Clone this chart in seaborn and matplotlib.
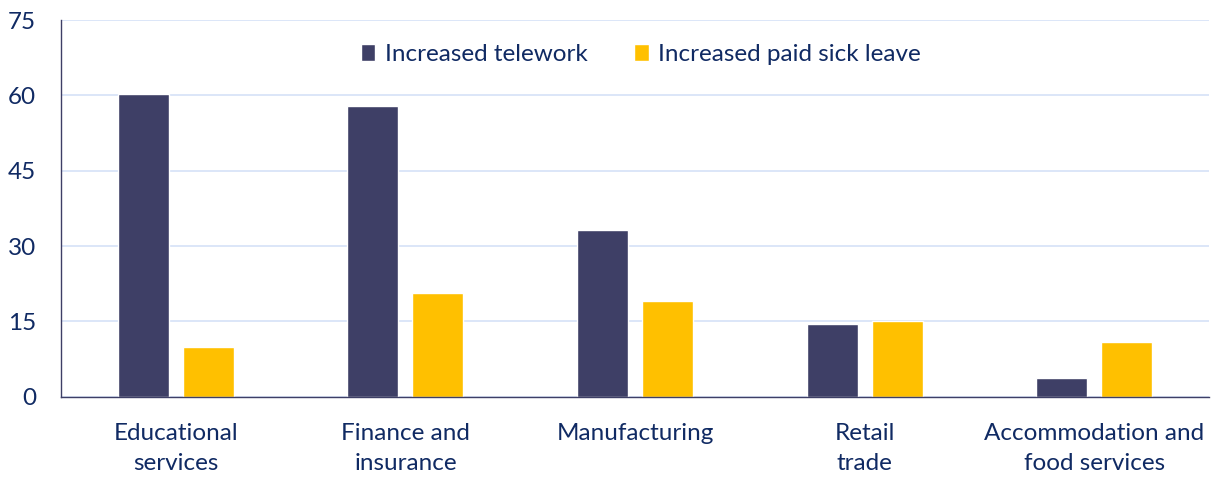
import pandas as pd
import matplotlib
matplotlib.use("Agg")
import matplotlib.pyplot as plt
import seaborn as sns

# ==========================================================
# Data
# ==========================================================

industries = [
    "Educational\nservices",
    "Finance and\ninsurance",
    "Manufacturing",
    "Retail\ntrade",
    "Accommodation and\nfood services",
]
telework = [60.2, 57.8, 33.3, 14.5, 3.7]
sick_leave = [9.9, 20.7, 19.1, 15.1, 10.9]
series_names = ["Increased telework", "Increased paid sick leave"]

df = pd.DataFrame({
    "Industry": industries * 2,
    "Measure": [series_names[0]] * 5 + [series_names[1]] * 5,
    "Value": telework + sick_leave,
})

# ==========================================================
# Style
# ==========================================================

sns.set_style("white")
plt.rcParams["font.family"] = ["Lato", "DejaVu Sans"]

text_color = "#102A63"
palette = {series_names[0]: "#3E3F66", series_names[1]: "#FFC000"}

# ==========================================================
# Plot
# ==========================================================

fig, ax = plt.subplots(figsize=(12.19, 4.78), dpi=100)
fig.subplots_adjust(left=0.05, right=0.992, top=0.958, bottom=0.17)

sns.barplot(
    data=df,
    x="Industry",
    y="Value",
    hue="Measure",
    palette=palette,
    saturation=1,
    width=0.566,
    gap=0.215,
    ax=ax,
)

ax.set_ylim(0, 75)
ax.set_yticks([0, 15, 30, 45, 60, 75])
ax.set_xlabel("")
ax.set_ylabel("")

ax.yaxis.grid(True, color="#D6E2F7", linewidth=1.2)
ax.set_axisbelow(True)

for side in ["top", "right"]:
    ax.spines[side].set_visible(False)
ax.spines["left"].set_color("#3E3F66")
ax.spines["bottom"].set_color("#3E3F66")
ax.spines["left"].set_linewidth(1)
ax.spines["bottom"].set_linewidth(1)

ax.tick_params(axis="both", length=0, labelsize=17.5, colors=text_color)
ax.tick_params(axis="y", pad=18)
ax.tick_params(axis="x", pad=19)
for lbl in ax.get_xticklabels():
    lbl.set_linespacing(1.55)

leg = ax.legend(
    loc="upper center",
    bbox_to_anchor=(0.505, 0.995),
    ncol=2,
    frameon=False,
    fontsize=17.5,
    handlelength=0.6,
    handleheight=0.7,
    handletextpad=0.4,
    columnspacing=1.9,
)
for t in leg.get_texts():
    t.set_color(text_color)

plt.savefig("out.png", dpi=100)
